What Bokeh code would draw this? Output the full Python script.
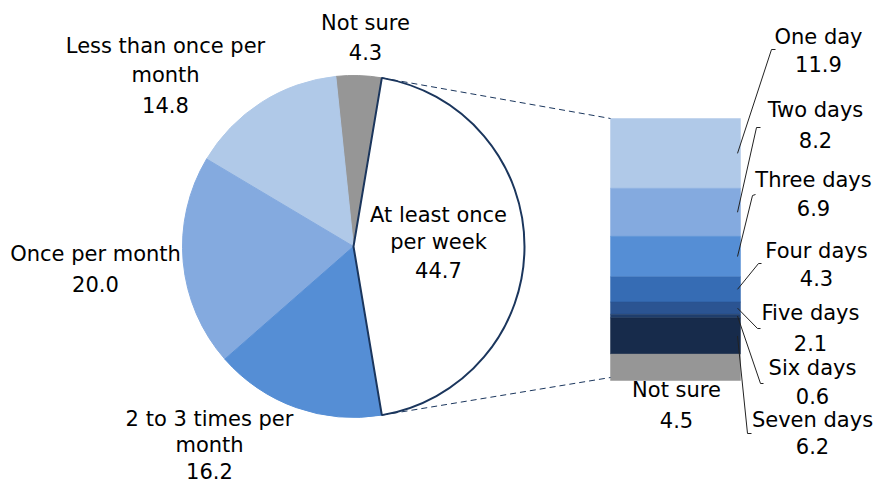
import math
from bokeh.plotting import figure
from bokeh.models import Range1d
from bokeh.core.properties import value
from bokeh.embed import file_html
from bokeh.resources import INLINE

# ---------------- data ----------------
pie_labels = ["At least once\nper week", "2 to 3 times per\nmonth", "Once per month",
              "Less than once per\nmonth", "Not sure"]
pie_values = [44.7, 16.2, 20.0, 14.8, 4.3]
pie_colors = ["#FFFFFF", "#558ED5", "#84AADF", "#B0C9E8", "#969696"]

bar_labels = ["One day", "Two days", "Three days", "Four days", "Five days",
              "Six days", "Seven days", "Not sure"]
bar_values = [11.9, 8.2, 6.9, 4.3, 2.1, 0.6, 6.2, 4.5]
bar_colors = ["#B0C9E8", "#84AADF", "#558ED5", "#366CB4", "#2B5492",
              "#1F3D6B", "#172B4B", "#969696"]

# ---------------- layout (image pixel coords) ----------------
W, H = 875, 485
def Y(py):
    return H - py

NAVY = "#1B365D"
FONT = value("DejaVu Sans")
FS = "21px"
TEXT_SHIFT = -8   # renderer places the alphabetic baseline a little lower

p = figure(width=W, height=H, x_range=Range1d(0, W), y_range=Range1d(0, H),
           output_backend="svg", toolbar_location=None, min_border=0,
           x_axis_type=None, y_axis_type=None, outline_line_color=None)
p.grid.visible = False

# ---- pie ----
cx, cy, r = 353, 246, 171
total = sum(pie_values)
first_span = pie_values[0] / total * 360.0
a0 = 90.0 - first_span / 2.0          # clockwise-from-top angle of first slice start
angles = []
acc = a0
for v in pie_values:
    span = v / total * 360.0
    angles.append((acc, acc + span))
    acc += span

def to_math(a):
    return math.radians(90.0 - a)

for i in range(len(pie_values) - 1, 0, -1):
    s, e = angles[i]
    p.wedge(x=cx, y=Y(cy), radius=r, start_angle=to_math(e), end_angle=to_math(s),
            fill_color=pie_colors[i], line_color=pie_colors[i], line_width=1)
s, e = angles[0]
p.wedge(x=cx, y=Y(cy), radius=r, start_angle=to_math(e), end_angle=to_math(s),
        fill_color=pie_colors[0], line_color=NAVY, line_width=2)

# ---- stacked bar ----
bx0, bx1, btop, bbot = 610, 740, 118, 380
btotal = sum(bar_values)
k = (bbot - btop) / btotal
tops, bots, centers = [], [], []
acc = 0.0
for v in bar_values:
    t = btop + acc * k
    acc += v
    b = btop + acc * k
    tops.append(Y(t)); bots.append(Y(b)); centers.append((t + b) / 2)
p.quad(left=bx0, right=bx1, top=tops, bottom=bots, fill_color=bar_colors,
       line_color=bar_colors, line_width=0.5)

# ---- connector dashed lines ----
sx = cx + r * math.sin(math.radians(angles[0][0]))
sy = cy - r * math.cos(math.radians(angles[0][0]))
ex = cx + r * math.sin(math.radians(angles[0][1]))
ey = cy - r * math.cos(math.radians(angles[0][1]))
p.multi_line(xs=[[sx, bx0], [ex, bx0]], ys=[[Y(sy), Y(btop)], [Y(ey), Y(bbot - 3)]],
             line_color=NAVY, line_width=1, line_dash="6 4")

# ---- leader lines ----
elbows = [(771, 49, 775, 49), (756, 127, 760, 127), (752, 195, 755, 194),
          (758, 263, 761, 263), (757, 328, 760, 328), (760, 383, 763, 383),
          (747, 433, 751, 433)]
lxs, lys = [], []
for i, (x1, y1, x2, y2) in enumerate(elbows):
    lxs.append([737, x1, x2])
    lys.append([Y(centers[i]), Y(y1), Y(y2)])
p.multi_line(xs=lxs, ys=lys, line_color="#222222", line_width=1)

# ---- labels ----
pie_pos = [(438, [222, 249, 277]), (209, [426, 452, 478]), (95, [261, 291]),
           (165, [53, 82, 112]), (365, [30, 59])]
bar_pos = [(818, [44, 71]), (815, [117, 147]), (813, [187, 215]), (816, [258, 285]),
           (810, [320, 350]), (812, [375, 403]), (812, [427, 453]), (676, [397, 427])]

tx, ty, tt = [], [], []
def add(label, val, pos):
    lines = label.split("\n") + [f"{val:.1f}"]
    x, ys = pos
    for line, yy in zip(lines, ys):
        tx.append(x); ty.append(Y(yy + TEXT_SHIFT)); tt.append(line)

for lab, v, pos in zip(pie_labels, pie_values, pie_pos):
    add(lab, v, pos)
for lab, v, pos in zip(bar_labels, bar_values, bar_pos):
    add(lab, v, pos)

p.text(x=tx, y=ty, text=tt, text_font=FONT, text_font_size=FS,
       text_align="center", text_baseline="alphabetic", text_color="#000000")

open("out.html", "w").write(file_html(p, INLINE))
